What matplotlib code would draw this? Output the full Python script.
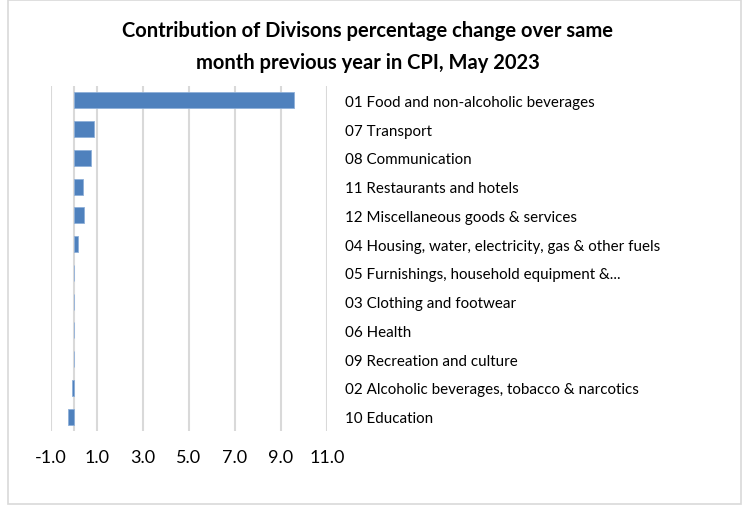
import matplotlib.pyplot as plt
from matplotlib.patches import Rectangle

categories = [
    "01 Food and non-alcoholic beverages",
    "07 Transport",
    "08 Communication",
    "11 Restaurants and hotels",
    "12 Miscellaneous goods & services",
    "04 Housing, water, electricity, gas & other fuels",
    "05 Furnishings, household equipment &...",
    "03 Clothing and footwear",
    "06 Health",
    "09 Recreation and culture",
    "02 Alcoholic beverages, tobacco & narcotics",
    "10 Education",
]
values = [9.57, 0.88, 0.72, 0.41, 0.42, 0.16, 0.02, 0.02, 0.02, 0.02, -0.08, -0.25]
xticks = [-1, 1, 3, 5, 7, 9, 11]

plt.rcParams['font.family'] = ['Lato', 'DejaVu Sans']

W, H = 748, 506
fig = plt.figure(figsize=(W / 100, H / 100), dpi=100)

# outer chart border like the spreadsheet frame
fig.patches.append(Rectangle((8 / W, 1 / H), 733 / W, 1 - 2 / H, transform=fig.transFigure,
                             fill=False, edgecolor='#d9d9d9', linewidth=1.2))

ax = fig.add_axes([51 / W, 1 - 432 / H, (327 - 51) / W, (432 - 87) / H])

y = list(range(len(categories)))
ax.barh(y, values, height=0.56, color='#4f81bd', edgecolor='#8fb0d9', linewidth=0.6, zorder=3)

ax.set_xlim(-1, 11)
ax.set_ylim(len(categories) - 0.5, -0.5)
ax.set_xticks(xticks)
ax.set_xticklabels([f"{t:.1f}" for t in xticks], fontsize=13)
ax.tick_params(axis='x', length=0, pad=13)

ax.yaxis.tick_right()
ax.set_yticks(y)
ax.set_yticklabels(categories, fontsize=10.9)
ax.tick_params(axis='y', length=0, pad=13)

ax.grid(axis='x', color='#d9d9d9', linewidth=1.5, zorder=0)
ax.axvline(0, color='#d9d9d9', linewidth=1.5, zorder=1)
for s in ax.spines.values():
    s.set_visible(False)

fig.text(368 / W, 1 - 47 / H,
         "Contribution of Divisons percentage change over same\nmonth previous year in CPI, May 2023",
         ha='center', va='center', fontsize=14.5, fontweight='bold', linespacing=1.75)

fig.savefig("out.png", dpi=100)
